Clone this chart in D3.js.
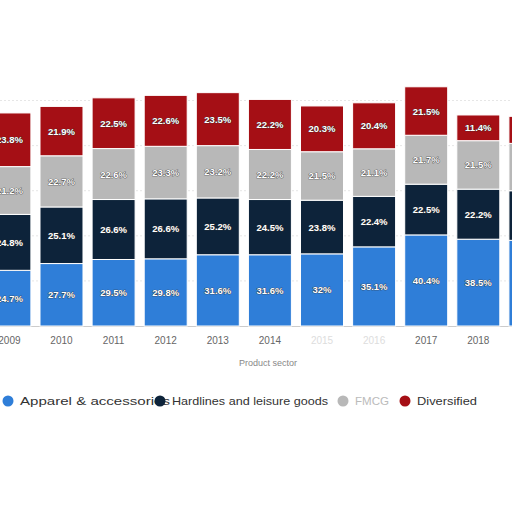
<!DOCTYPE html><html><head><script src="https://cdn.jsdelivr.net/npm/d3@7"></script>
<style>body{margin:0;background:#fff}</style></head><body><svg id="c" width="512" height="512"></svg>
<script>
const years=["2009","2010","2011","2012","2013","2014","2015","2016","2017","2018","2019"];
const apparel=[24.7,27.7,29.5,29.8,31.6,31.6,32,35.1,40.4,38.5,38];
const hardlines=[24.8,25.1,26.6,26.6,25.2,24.5,23.8,22.4,22.5,22.2,22];
const fmcg=[21.2,22.7,22.6,23.3,23.2,22.2,21.5,21.1,21.7,21.5,21];
const diversified=[23.8,21.9,22.5,22.6,23.5,22.2,20.3,20.4,21.5,11.4,12];
const seriesNames=["Apparel & accessories","Hardlines and leisure goods","FMCG","Diversified"];
const colors=["#2f7ed8","#0d233a","#b8b8b8","#a50f15"];
const svg=d3.select("#c");
const data=years.map((y,i)=>({year:y,a:apparel[i],h:hardlines[i],f:fmcg[i],d:diversified[i]}));
const stack=d3.stack().keys(["a","h","f","d"])(data);
const x=d3.scaleBand().domain(years).range([-12.1,551.9]).paddingInner(0.175).paddingOuter(0);
const y=d3.scaleLinear().domain([0,110]).range([326,78]);
[20,40,60,80,100].forEach(v=>svg.append("line").attr("x1",0).attr("x2",512).attr("y1",y(v)).attr("y2",y(v)).attr("stroke","#e6e6e6").attr("stroke-dasharray","2,2"));
svg.append("line").attr("x1",0).attr("x2",512).attr("y1",326.5).attr("y2",326.5).attr("stroke","#ccc");
stack.forEach((s,k)=>{
 const g=svg.append("g");
 g.selectAll("rect").data(s).join("rect").attr("x",d=>x(d.data.year)).attr("width",x.bandwidth())
  .attr("y",d=>y(d[1])).attr("height",d=>y(d[0])-y(d[1])).attr("fill",colors[k]).attr("stroke","#fff").attr("stroke-width",1);
 g.selectAll("text").data(s.filter(d=>d.data.year!=="2019")).join("text").attr("x",d=>x(d.data.year)+x.bandwidth()/2)
  .attr("y",d=>(y(d[0])+y(d[1]))/2+3.5).attr("text-anchor","middle").attr("font-family","Liberation Sans, Arial").attr("font-weight","bold")
  .attr("font-size",9.5).attr("fill","#fff").attr("stroke","#333").attr("stroke-width",0.7).attr("paint-order","stroke")
  .text(d=>(d[1]-d[0]).toFixed(1).replace(/\.0$/,"")+"%");
});
svg.append("g").selectAll("text").data(years.filter(y=>y!=="2019")).join("text").attr("x",d=>x(d)+x.bandwidth()/2).attr("y",344)
 .attr("text-anchor","middle").attr("font-family","Liberation Sans, Arial").attr("font-size",10).attr("fill",d=>(d==="2015"||d==="2016")?"#ddd":"#666").text(d=>d);
svg.append("text").attr("x",268).attr("y",366).attr("text-anchor","middle").attr("font-family","Liberation Sans, Arial").attr("font-size",9).attr("fill","#888").text("Product sector");
const lx=[8,160,343,405], lw=[150,156,34,60];
seriesNames.forEach((n,i)=>{
 svg.append("circle").attr("cx",lx[i]).attr("cy",401).attr("r",5.5).attr("fill",colors[i]);
 svg.append("text").attr("x",lx[i]+12).attr("y",405).attr("font-family","Liberation Sans, Arial").attr("font-size",11.5)
  .attr("textLength",lw[i]).attr("lengthAdjust","spacingAndGlyphs").attr("fill",i===2?"#bbb":"#333").text(n);
});
</script></body></html>
